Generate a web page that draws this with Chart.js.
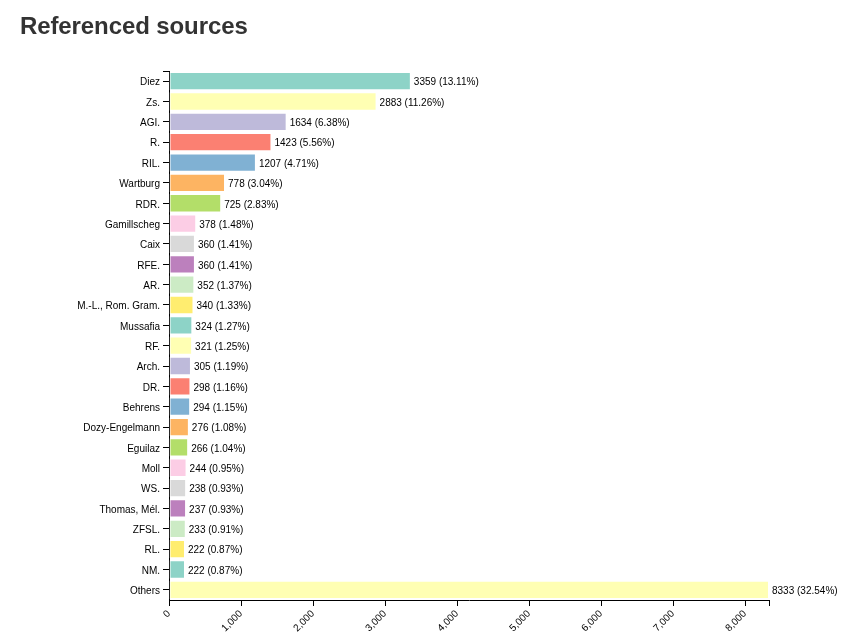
<!DOCTYPE html>
<html>
<head>
<meta charset="utf-8">
<script src="https://cdn.jsdelivr.net/npm/chart.js@4"></script>
<style>
html,body{margin:0;padding:0;background:#fff;}
#wrap{position:relative;width:859px;height:643px;}
#title{position:absolute;left:20px;top:12px;margin:0;font:bold 24px "Liberation Sans",Arial,sans-serif;color:#333;letter-spacing:-0.1px;}
canvas{position:absolute;left:0;top:0;}
</style>
</head>
<body>
<div id="wrap">
<canvas id="c" width="859" height="643"></canvas>
<h1 id="title">Referenced sources</h1>
</div>
<script>
const categories = ["Diez","Zs.","AGI.","R.","RIL.","Wartburg","RDR.","Gamillscheg","Caix","RFE.","AR.","M.-L., Rom. Gram.","Mussafia","RF.","Arch.","DR.","Behrens","Dozy-Engelmann","Eguilaz","Moll","WS.","Thomas, Mél.","ZFSL.","RL.","NM.","Others"];
const values = [3359,2883,1634,1423,1207,778,725,378,360,360,352,340,324,321,305,298,294,276,266,244,238,237,233,222,222,8333];
const xTicks = [0,1000,2000,3000,4000,5000,6000,7000,8000];
const palette = ["#8dd3c7","#ffffb3","#bebada","#fb8072","#80b1d3","#fdb462","#b3de69","#fccde5","#d9d9d9","#bc80bd","#ccebc5","#ffed6f"];

const total = values.reduce((a,b)=>a+b,0);
const maxV = Math.max(...values);
const FONT = '"Liberation Sans", Arial, sans-serif';

const valueLabels = {
  id:'valueLabels',
  afterDatasetsDraw(chart){
    const ctx = chart.ctx;
    const meta = chart.getDatasetMeta(0);
    ctx.save();
    ctx.font = '10px ' + FONT;
    ctx.fillStyle = '#000';
    ctx.textAlign = 'left';
    ctx.textBaseline = 'middle';
    meta.data.forEach((bar,i)=>{
      const v = values[i];
      ctx.fillText(v + ' (' + (v/total*100).toFixed(2) + '%)', bar.x + 3, bar.y + 1.5);
    });
    ctx.restore();
  }
};

const outerTicks = {
  id:'outerTicks',
  afterDraw(chart){
    const ctx = chart.ctx, a = chart.chartArea;
    ctx.save();
    ctx.strokeStyle = '#000';
    ctx.lineWidth = 1;
    ctx.beginPath();
    ctx.moveTo(a.left-6, Math.round(a.top)+0.5);
    ctx.lineTo(a.left, Math.round(a.top)+0.5);
    ctx.stroke();
    ctx.restore();
  }
};

new Chart(document.getElementById('c'), {
  type:'bar',
  data:{
    labels:categories,
    datasets:[{
      data:values,
      backgroundColor:values.map((v,i)=>palette[i%palette.length]),
      borderColor:'rgba(255,255,255,0.6)',
      borderWidth:1,
      borderSkipped:false,
      categoryPercentage:1.0,
      barPercentage:0.9
    }]
  },
  options:{
    indexAxis:'y',
    responsive:false,
    animation:false,
    devicePixelRatio:1,
    layout:{padding:{top:71,right:90,left:0,bottom:0}},
    plugins:{legend:{display:false},tooltip:{enabled:false},title:{display:false}},
    scales:{
      x:{
        type:'linear',
        min:0,
        max:maxV,
        afterBuildTicks(scale){
          scale.ticks = xTicks.map(v=>({value:v})).concat([{value:maxV}]);
        },
        afterFit(scale){ scale.height = 43; },
        grid:{drawOnChartArea:false,drawTicks:true,tickLength:6,color:'#000'},
        border:{display:true,color:'#000',width:1},
        ticks:{
          autoSkip:false,
          minRotation:45,
          maxRotation:45,
          padding:2,
          color:'#000',
          font:{size:10,family:FONT},
          callback(v){ return v===maxV ? '' : v.toLocaleString('en-US'); }
        }
      },
      y:{
        type:'category',
        offset:true,
        afterFit(scale){ scale.width = 169; },
        grid:{drawOnChartArea:false,drawTicks:true,tickLength:6,color:'#000',offset:false},
        border:{display:true,color:'#000',width:1},
        ticks:{
          autoSkip:false,
          padding:3,
          labelOffset:1.5,
          color:'#000',
          font:{size:10,family:FONT}
        }
      }
    }
  },
  plugins:[valueLabels,outerTicks]
});
</script>
</body>
</html>
